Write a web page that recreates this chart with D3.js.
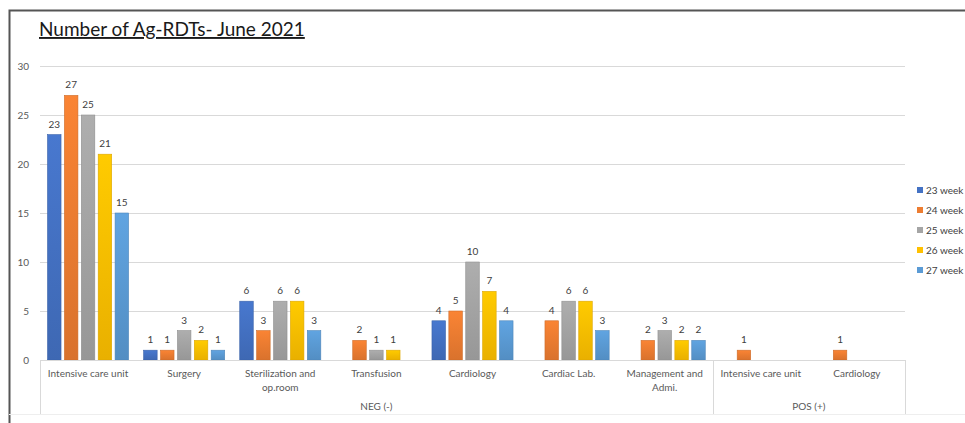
<!DOCTYPE html>
<html>
<head>
<meta charset="utf-8">
<script src="https://cdn.jsdelivr.net/npm/d3@7"></script>
<style>
  body { margin: 0; background: #fff; }
  text { font-family: Lato, "Open Sans", sans-serif; }
</style>
</head>
<body>
<div id="chart"></div>
<script>
// Data
var categories = ["Intensive care unit", "Surgery", "Sterilization and|op.room", "Transfusion",
  "Cardiology", "Cardiac Lab.", "Management and|Admi.", "Intensive care unit", "Cardiology"];
var groups = [{ name: "NEG (-)", count: 7 }, { name: "POS (+)", count: 2 }];
var seriesNames = ["23 week", "24 week", "25 week", "26 week", "27 week"];
var week23 = [23, 1, 6, 0, 4, 0, 0, 0, 0];
var week24 = [27, 1, 3, 2, 5, 4, 2, 1, 1];
var week25 = [25, 3, 6, 1, 10, 6, 3, 0, 0];
var week26 = [21, 2, 6, 1, 7, 6, 2, 0, 0];
var week27 = [15, 1, 3, 0, 4, 3, 2, 0, 0];
var yTicks = [0, 5, 10, 15, 20, 25, 30];

var seriesValues = [week23, week24, week25, week26, week27];
var colors = ["#4472C4", "#ED7D31", "#A5A5A5", "#FFC000", "#5B9BD5"];

var width = 965, height = 423;
var margin = { left: 40, right: 60, top: 66, bottom: 63 };

var svg = d3.select("#chart").append("svg")
  .attr("width", width)
  .attr("height", height);

// frame
svg.append("path")
  .attr("d", "M9.5," + height + "V10.5H" + width)
  .attr("fill", "none")
  .attr("stroke", "#555")
  .attr("stroke-width", 2);

// title
svg.append("text")
  .attr("x", 39)
  .attr("y", 36)
  .attr("font-size", 19)
  .attr("fill", "#1a1a1a")
  .attr("text-decoration", "underline")
  .text("Number of Ag-RDTs- June 2021");

var x0 = d3.scaleBand()
  .domain(d3.range(categories.length))
  .range([margin.left, width - margin.right]);

var x1 = d3.scaleBand()
  .domain(d3.range(seriesNames.length))
  .range([0, x0.bandwidth()])
  .paddingInner(0.2)
  .paddingOuter(0.445);

var y = d3.scaleLinear()
  .domain([0, 30])
  .range([height - margin.bottom, margin.top]);

// gridlines
svg.append("g")
  .selectAll("line")
  .data(yTicks)
  .enter().append("line")
  .attr("x1", margin.left)
  .attr("x2", width - margin.right)
  .attr("y1", d => Math.round(y(d)) + 0.5)
  .attr("y2", d => Math.round(y(d)) + 0.5)
  .attr("stroke", "#d9d9d9");

// y axis labels
var yAxis = d3.axisLeft(y).tickValues(yTicks).tickSize(0).tickPadding(11);
svg.append("g")
  .attr("transform", "translate(" + margin.left + ",0)")
  .call(yAxis)
  .call(g => g.select(".domain").remove())
  .call(g => g.selectAll("text")
    .attr("font-size", 10)
    .attr("fill", "#595959")
    .attr("font-family", "Lato, sans-serif"));

// gradients for bars
var defs = svg.append("defs");
colors.forEach(function(c, i) {
  var grad = defs.append("linearGradient")
    .attr("id", "bar" + i)
    .attr("x1", 0).attr("y1", 0).attr("x2", 0).attr("y2", 1);
  grad.append("stop").attr("offset", 0).attr("stop-color", d3.color(c).brighter(0.15));
  grad.append("stop").attr("offset", 1).attr("stop-color", d3.color(c).darker(0.25));
});

// bars
var catG = svg.append("g")
  .selectAll("g")
  .data(categories)
  .enter().append("g")
  .attr("transform", (d, i) => "translate(" + x0(i) + ",0)");

catG.each(function(d, ci) {
  var g = d3.select(this);
  var vals = seriesValues.map((s, si) => ({ si: si, v: s[ci] })).filter(o => o.v > 0);
  g.selectAll("rect")
    .data(vals)
    .enter().append("rect")
    .attr("x", o => x1(o.si))
    .attr("width", x1.bandwidth())
    .attr("y", o => y(o.v))
    .attr("height", o => y(0) - y(o.v))
    .attr("fill", o => "url(#bar" + o.si + ")")
    .attr("stroke", o => d3.color(colors[o.si]).darker(0.4))
    .attr("stroke-width", 0.6);
  g.selectAll("text.lbl")
    .data(vals)
    .enter().append("text")
    .attr("class", "lbl")
    .attr("x", o => x1(o.si) + x1.bandwidth() / 2)
    .attr("y", o => y(o.v) - 7)
    .attr("text-anchor", "middle")
    .attr("font-size", 10)
    .attr("fill", "#404040")
    .text(o => o.v);
});

// zero axis line
svg.append("line")
  .attr("x1", margin.left).attr("x2", width - margin.right)
  .attr("y1", Math.round(y(0)) + 0.5).attr("y2", Math.round(y(0)) + 0.5)
  .attr("stroke", "#d9d9d9");

// category labels
var labelG = svg.append("g");
categories.forEach(function(c, i) {
  var t = labelG.append("text")
    .attr("x", x0(i) + x0.bandwidth() / 2)
    .attr("y", y(0) + 17)
    .attr("text-anchor", "middle")
    .attr("font-size", 10)
    .attr("fill", "#595959");
  c.split("|").forEach(function(line, li) {
    t.append("tspan")
      .attr("x", x0(i) + x0.bandwidth() / 2)
      .attr("dy", li === 0 ? 0 : 14)
      .text(line);
  });
});

// group labels and separators
var bottomY = height - 9;
var start = 0;
var seps = [0];
groups.forEach(function(gr) {
  var a = x0(start), b = x0(start) + x0.bandwidth() * gr.count;
  svg.append("text")
    .attr("x", (a + b) / 2)
    .attr("y", y(0) + 50)
    .attr("text-anchor", "middle")
    .attr("font-size", 10)
    .attr("fill", "#595959")
    .text(gr.name);
  start += gr.count;
  seps.push(start);
});
svg.append("g")
  .selectAll("line")
  .data(seps)
  .enter().append("line")
  .attr("x1", d => Math.round(x0(0) + x0.bandwidth() * d) + 0.5)
  .attr("x2", d => Math.round(x0(0) + x0.bandwidth() * d) + 0.5)
  .attr("y1", y(0))
  .attr("y2", bottomY)
  .attr("stroke", "#d9d9d9");
svg.append("line")
  .attr("x1", 9).attr("x2", width)
  .attr("y1", bottomY + 0.5).attr("y2", bottomY + 0.5)
  .attr("stroke", "#eeeeee");

// legend
var legend = svg.append("g")
  .selectAll("g")
  .data(seriesNames)
  .enter().append("g")
  .attr("transform", (d, i) => "translate(917," + (190 + i * 20) + ")");
legend.append("rect")
  .attr("x", 0).attr("y", -3)
  .attr("width", 6).attr("height", 6)
  .attr("fill", (d, i) => colors[i]);
legend.append("text")
  .attr("x", 9)
  .attr("dy", "0.35em")
  .attr("font-size", 10)
  .attr("fill", "#404040")
  .text(d => d);
</script>
</body>
</html>
